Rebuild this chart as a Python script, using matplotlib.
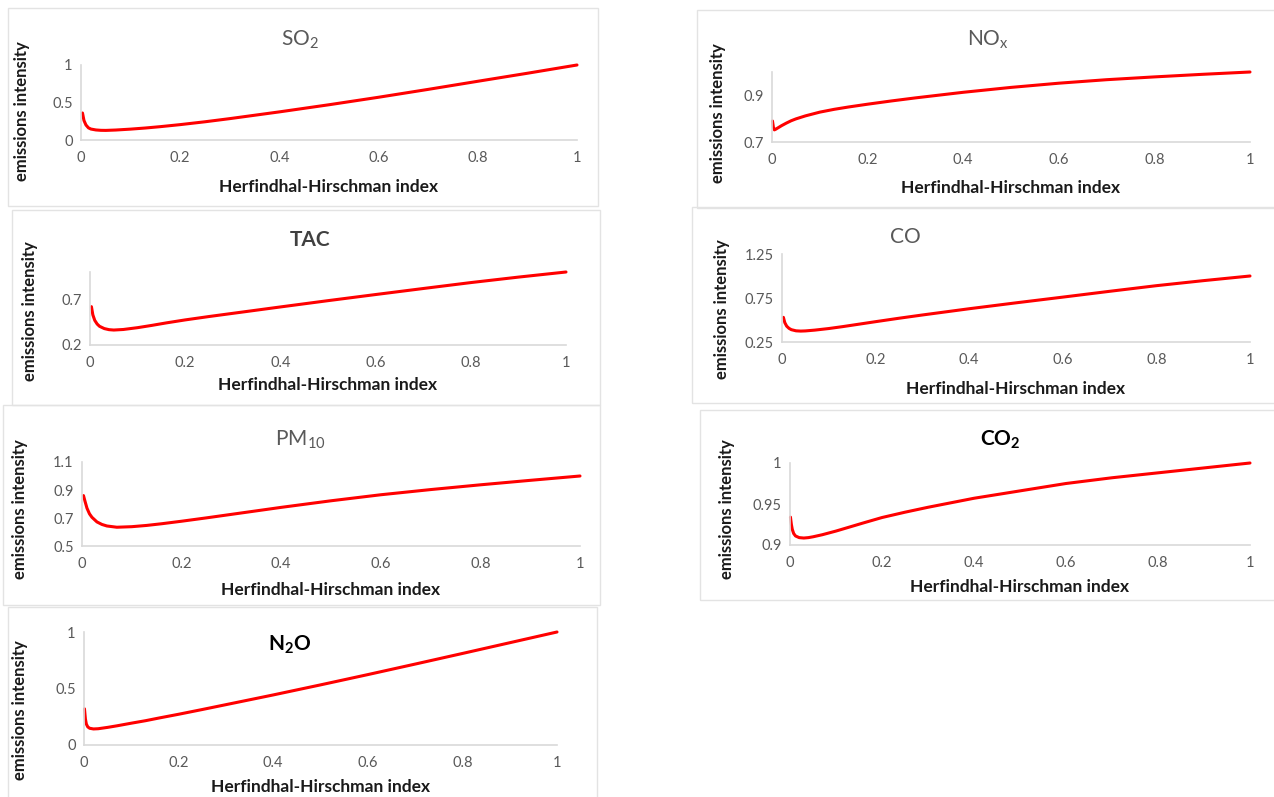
import matplotlib
matplotlib.use("Agg")
import matplotlib.pyplot as plt
from matplotlib.patches import Rectangle

# ── Data (x = Herfindhal-Hirschman index) ──────────────────────────────────────
hhi = [0.003, 0.006, 0.01, 0.015, 0.02, 0.03, 0.04, 0.05, 0.07, 0.1, 0.13,
       0.16, 0.2, 0.25, 0.3, 0.4, 0.5, 0.6, 0.7, 0.8, 0.9, 1.0]
hhi_fine = [0.001, 0.003, 0.005, 0.008, 0.012, 0.02, 0.03, 0.04, 0.05, 0.07,
            0.1, 0.13, 0.16, 0.2, 0.25, 0.3, 0.4, 0.5, 0.6, 0.7, 0.8, 0.9, 1.0]

so2  = [0.36, 0.26, 0.20, 0.162, 0.146, 0.134, 0.129, 0.128, 0.133, 0.145, 0.16,
        0.178, 0.205, 0.243, 0.285, 0.375, 0.47, 0.57, 0.675, 0.783, 0.89, 1.0]
tac  = [0.62, 0.53, 0.47, 0.43, 0.405, 0.38, 0.368, 0.364, 0.37, 0.39, 0.415,
        0.442, 0.475, 0.512, 0.547, 0.617, 0.686, 0.753, 0.819, 0.884, 0.944, 1.0]
co   = [0.53, 0.47, 0.43, 0.405, 0.39, 0.377, 0.374, 0.376, 0.385, 0.403, 0.425,
        0.449, 0.481, 0.52, 0.557, 0.628, 0.695, 0.76, 0.826, 0.89, 0.947, 1.0]
pm10 = [0.86, 0.82, 0.77, 0.73, 0.705, 0.672, 0.654, 0.643, 0.634, 0.638, 0.647,
        0.659, 0.677, 0.701, 0.726, 0.776, 0.823, 0.866, 0.903, 0.937, 0.969, 1.0]

nox  = [0.79, 0.762, 0.752, 0.755, 0.760, 0.770, 0.781, 0.791, 0.799, 0.812,
        0.828, 0.840, 0.850, 0.862, 0.876, 0.889, 0.913, 0.934, 0.952, 0.967,
        0.979, 0.99, 1.0]
co2  = [0.934, 0.925, 0.919, 0.914, 0.911, 0.909, 0.9085, 0.909, 0.910, 0.9125,
        0.917, 0.922, 0.927, 0.9335, 0.940, 0.946, 0.957, 0.966, 0.975, 0.982,
        0.988, 0.994, 1.0]
n2o  = [0.32, 0.23, 0.185, 0.16, 0.148, 0.142, 0.144, 0.15, 0.156, 0.17,
        0.193, 0.215, 0.24, 0.272, 0.314, 0.357, 0.443, 0.532, 0.623, 0.716,
        0.81, 0.905, 1.0]

x_ticks = [0, 0.2, 0.4, 0.6, 0.8, 1]
x_label = "Herfindhal-Hirschman index"
y_label = "emissions intensity"

# ── Fonts ─────────────────────────────────────────────────────────────────────
plt.rcParams["font.family"] = ["Lato", "DejaVu Sans"]
plt.rcParams["mathtext.fontset"] = "custom"
plt.rcParams["mathtext.rm"] = "Lato"
plt.rcParams["mathtext.it"] = "Lato:italic"
plt.rcParams["mathtext.bf"] = "Lato:bold"

W, H = 1274, 797
GRAY = "#595959"
fig = plt.figure(figsize=(W / 100, H / 100), dpi=100)

# panel: title, x, y, ylim, yticks, frame box, axes box, title xy, ylabel x, xlabel y, title style
panels = [
    ("SO$_\\mathrm{2}$", hhi, so2, (0, 1), [0, 0.5, 1],
     (8, 8, 598, 206), (81, 65, 577, 140), (300, 40), 22, 187, (GRAY, "normal")),
    ("NO$_\\mathrm{x}$", hhi_fine, nox, (0.7, 1.0), [0.7, 0.9],
     (697, 10, 1280, 208), (772, 72, 1250, 142), (988, 40), 718, 188, (GRAY, "normal")),
    ("TAC", hhi, tac, (0.2, 1.0), [0.2, 0.7],
     (12, 210, 600, 405), (90, 272, 566, 345), (310, 240), 30, 385, ("#404040", "bold")),
    ("CO", hhi, co, (0.25, 1.25), [0.25, 0.75, 1.25],
     (692, 207, 1280, 403), (782, 254, 1250, 342), (905, 237), 722, 389, (GRAY, "normal")),
    ("PM$_\\mathrm{10}$", hhi, pm10, (0.5, 1.1), [0.5, 0.7, 0.9, 1.1],
     (3, 405, 600, 605), (82, 462, 580, 546), (300, 440), 20, 590, (GRAY, "normal")),
    ("CO$_\\mathbf{2}$", hhi_fine, co2, (0.9, 1.0), [0.9, 0.95, 1],
     (700, 410, 1280, 600), (790, 463, 1250, 545), (1000, 440), 727, 587, ("black", "bold")),
    ("N$_\\mathbf{2}$O", hhi_fine, n2o, (0, 1), [0, 0.5, 1],
     (8, 607, 597, 805), (84, 632, 557, 745), (290, 645), 20, 787, ("black", "bold")),
]

for (title, xs, ys, ylim, yticks, frame, box, tpos, ylx, xly, tstyle) in panels:
    # light grey chart border
    fx0, fy0, fx1, fy1 = frame
    fig.add_artist(Rectangle((fx0 / W, 1 - fy1 / H), (fx1 - fx0) / W, (fy1 - fy0) / H,
                             transform=fig.transFigure, fill=False,
                             ec="#e3e3e3", lw=1))

    x0, y0, x1, y1 = box
    ax = fig.add_axes([x0 / W, 1 - y1 / H, (x1 - x0) / W, (y1 - y0) / H])
    ax.plot(xs, ys, color="#ff0000", lw=2.2, solid_joinstyle="round",
            solid_capstyle="round", clip_on=False)
    ax.set_xlim(0, 1)
    ax.set_ylim(*ylim)
    ax.set_xticks(x_ticks)
    ax.set_xticklabels([f"{v:g}" for v in x_ticks])
    ax.set_yticks(yticks)
    ax.set_yticklabels([f"{v:g}" for v in yticks])
    ax.tick_params(length=0, labelsize=10.5, labelcolor=GRAY)
    ax.tick_params(axis="x", pad=8)
    ax.tick_params(axis="y", pad=6)
    for s in ("top", "right"):
        ax.spines[s].set_visible(False)
    for s in ("left", "bottom"):
        ax.spines[s].set_color("#d9d9d9")
        ax.spines[s].set_linewidth(1.2)
    ax.patch.set_alpha(0)

    fig.text(tpos[0] / W, 1 - tpos[1] / H, title, ha="center", va="center",
             fontsize=15, color=tstyle[0], fontweight=tstyle[1])
    fig.text((x0 + x1) / 2 / W, 1 - xly / H, x_label, ha="center", va="center",
             fontsize=12.5, fontweight="bold", color="#1a1a1a")
    fig.text(ylx / W, 1 - (fy0 + fy1) / 2 / H - 0.005, y_label, ha="center", va="center",
             rotation=90, fontsize=12, fontweight="bold", color="#1a1a1a")

fig.savefig("out.png", dpi=100, facecolor="white")
plt.close(fig)
print("Saved chart to out.png")
